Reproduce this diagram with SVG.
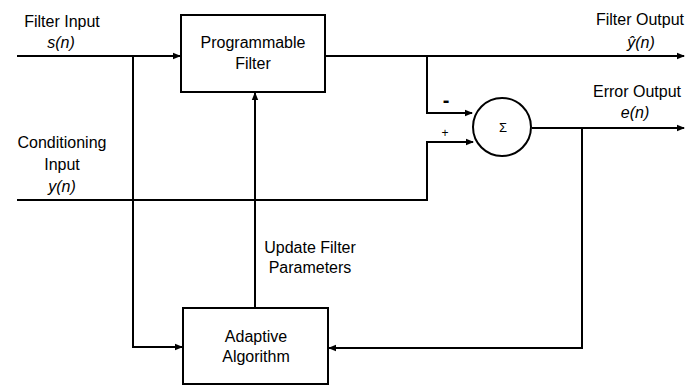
<svg xmlns="http://www.w3.org/2000/svg" width="690" height="386" viewBox="0 0 690 386">
<style>
text{font-family:"Liberation Sans",Arial,sans-serif;font-size:16px;fill:#000;text-anchor:middle}
.i{font-style:italic}
.box{fill:#fff;stroke:#000;stroke-width:2}
.ln{fill:none;stroke:#000;stroke-width:2}
</style>
<defs>
<marker id="ah" markerWidth="8" markerHeight="8" refX="7" refY="4" orient="auto" markerUnits="userSpaceOnUse">
<path d="M0,0.8 L8,4 L0,7.2 Z" fill="#000"/>
</marker>
</defs>
<g id="connectors">
<path class="ln" d="M17,56 H180" marker-end="url(#ah)"/>
<path class="ln" d="M133,56 V347 H182" marker-end="url(#ah)"/>
<path class="ln" d="M325,56 H684" marker-end="url(#ah)"/>
<path class="ln" d="M427,56 V113 H472" marker-end="url(#ah)"/>
<path class="ln" d="M17,200 H427 V142 H473" marker-end="url(#ah)"/>
<path class="ln" d="M532,128 H684" marker-end="url(#ah)"/>
<path class="ln" d="M582,128 V348 H329" marker-end="url(#ah)"/>
<path class="ln" d="M255,308 V93" marker-end="url(#ah)"/>
</g>
<g id="programmable-filter">
<rect class="box" x="181" y="15" width="144" height="77"/>
<text x="253" y="48">Programmable</text>
<text x="253" y="69">Filter</text>
</g>
<g id="adaptive-algorithm">
<rect class="box" x="183" y="308" width="145" height="76"/>
<text x="256" y="342">Adaptive</text>
<text x="256" y="362">Algorithm</text>
</g>
<g id="sum">
<circle class="box" cx="502" cy="127" r="29"/>
<text x="503" y="132" style="font-size:13px">Σ</text>
<text x="446" y="107" style="font-size:20px;font-weight:bold">-</text>
<text x="445" y="137" style="font-size:12px">+</text>
</g>
<g id="labels">
<text x="62" y="27">Filter Input</text>
<text class="i" x="61" y="48">s(n)</text>
<text x="640" y="25">Filter Output</text>
<text class="i" x="641" y="48">ŷ(n)</text>
<text x="637" y="97">Error Output</text>
<text class="i" x="635" y="118">e(n)</text>
<text x="62" y="148">Conditioning</text>
<text x="62" y="170">Input</text>
<text class="i" x="62" y="192">y(n)</text>
<text x="310" y="253">Update Filter</text>
<text x="310" y="273">Parameters</text>
</g>
</svg>
